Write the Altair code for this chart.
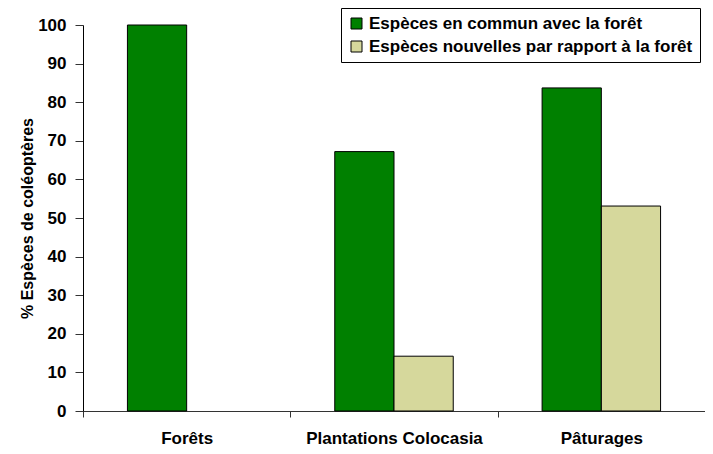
import altair as alt
import pandas as pd

categories = ["Forêts", "Plantations Colocasia", "Pâturages"]
series = ["Espèces en commun avec la forêt", "Espèces nouvelles par rapport à la forêt"]
commun = [100, 67.2, 83.7]
nouvelles = [None, 14.2, 53.1]
colors = ["#008000", "#d6d89c"]
y_ticks = list(range(0, 101, 10))

rows = []
for c, v1, v2 in zip(categories, commun, nouvelles):
    if v1 is not None:
        rows.append({"categorie": c, "serie": series[0], "valeur": v1})
    if v2 is not None:
        rows.append({"categorie": c, "serie": series[1], "valeur": v2})
df = pd.DataFrame(rows)

FONT = "Liberation Sans"

chart = alt.Chart(df).mark_bar(stroke="black", strokeWidth=1, opacity=1).encode(
    x=alt.X(
        "categorie:N",
        sort=categories,
        scale=alt.Scale(paddingInner=0, paddingOuter=0),
        axis=alt.Axis(
            title=None, labelAngle=0, labelFont=FONT, labelFontSize=17,
            labelFontWeight="bold", labelColor="black", tickBand="extent",
            tickSize=6, labelPadding=13, domainColor="#333333", tickColor="#333333",
            labelLimit=0,
        ),
    ),
    xOffset=alt.XOffset(
        "serie:N", sort=series,
        scale=alt.Scale(paddingOuter=0.75, paddingInner=0),
    ),
    y=alt.Y(
        "valeur:Q",
        scale=alt.Scale(domain=[0, 100], nice=False),
        axis=alt.Axis(
            values=y_ticks, grid=False, title="% Espèces de coléoptères",
            titleFont=FONT, titleFontSize=16, titleFontWeight="bold",
            titleColor="black", titlePadding=2,
            labelFont=FONT, labelFontSize=17, labelFontWeight="bold",
            labelColor="black", labelPadding=9, tickSize=8,
            domainColor="black", tickColor="#333333",
        ),
    ),
    color=alt.Color(
        "serie:N",
        scale=alt.Scale(domain=series, range=colors),
        legend=alt.Legend(
            title=None, orient="none", legendX=258, legendY=-17,
            strokeColor="black", fillColor="white", padding=7,
            symbolType="square", symbolSize=121, symbolStrokeColor="black",
            symbolStrokeWidth=1, symbolOpacity=1,
            labelFont=FONT, labelFontSize=17, labelFontWeight="bold",
            labelColor="black", labelLimit=0, rowPadding=5, labelOffset=4,
        ),
    ),
).properties(
    width=622,
    height=386,
    autosize=alt.AutoSizeParams(type="none"),
    padding={"left": 75, "top": 17, "right": 0, "bottom": 43},
    background="white",
).configure_view(stroke=None)

chart.save("out.html", embed_options={"renderer": "svg", "actions": False})
